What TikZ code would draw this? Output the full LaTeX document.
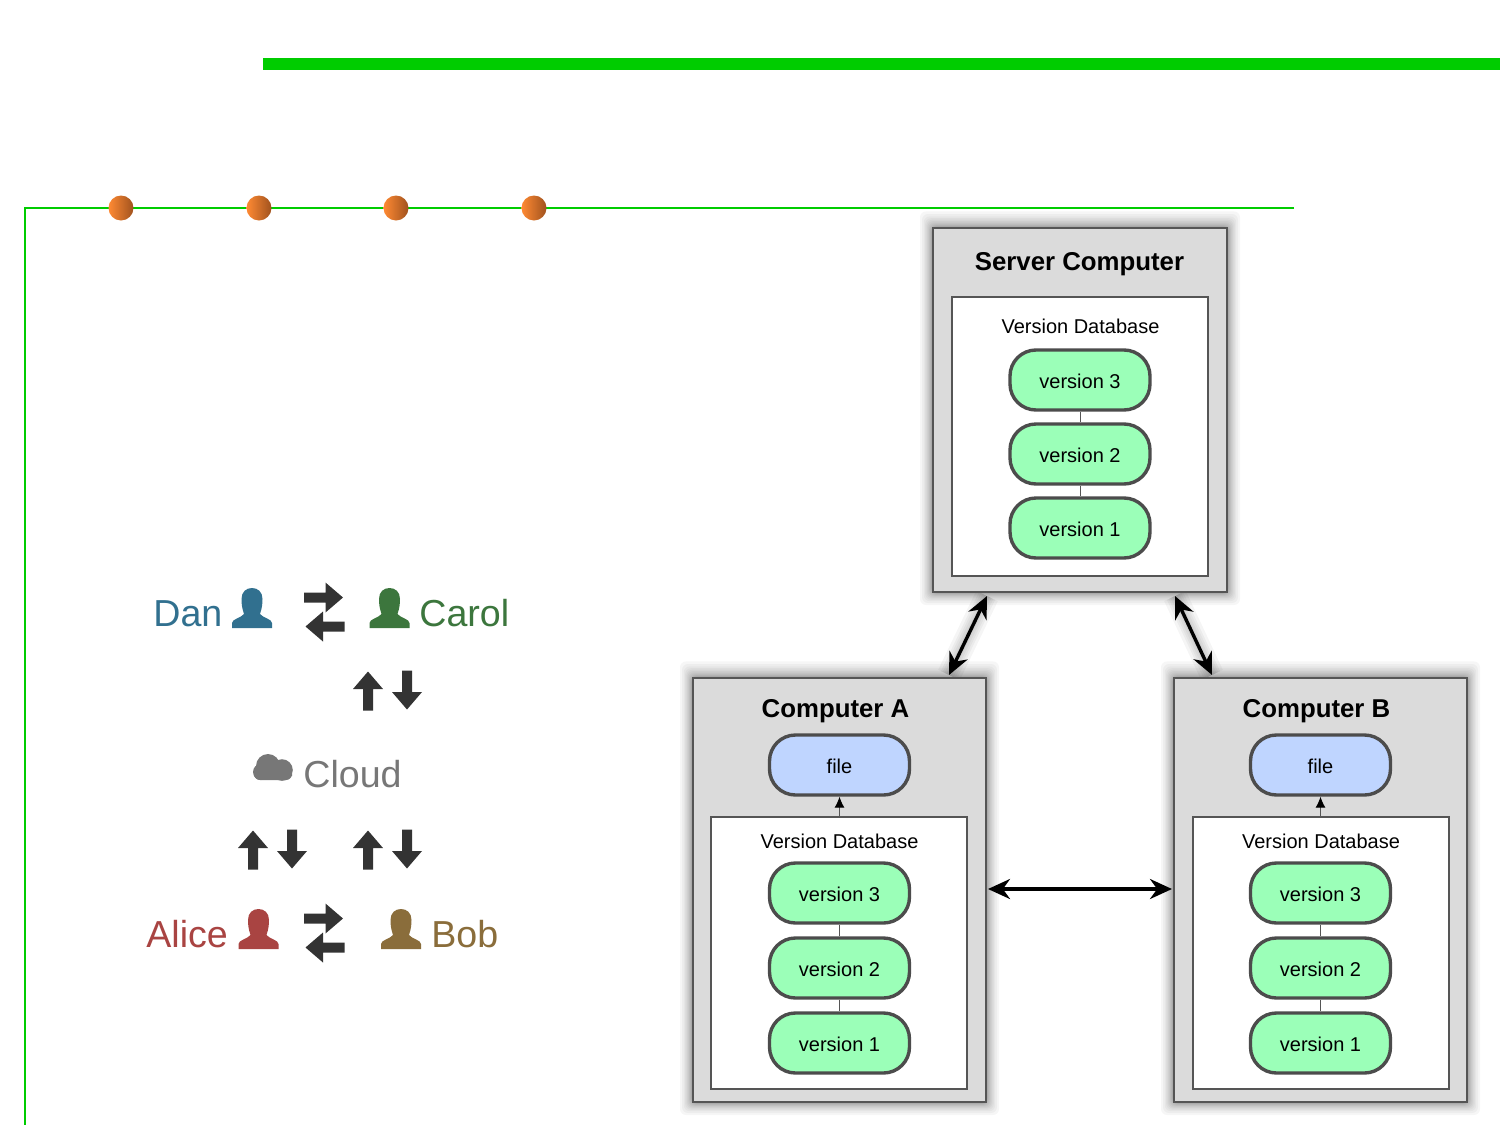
\documentclass[tikz,border=0pt]{standalone}
\usepackage{fontspec}
\setmainfont{Liberation Sans}
\usetikzlibrary{arrows.meta, backgrounds, calc}

\definecolor{railgreen}{HTML}{00CC00}
\definecolor{iconblack}{HTML}{333333}
\definecolor{danblue}{HTML}{31708F}
\definecolor{carolgreen}{HTML}{3C763D}
\definecolor{alicered}{HTML}{A94442}
\definecolor{bobbrown}{HTML}{8A6D3B}
\definecolor{cloudgray}{HTML}{777777}
\definecolor{hostgray}{HTML}{DBDBDB}
\definecolor{edgegray}{HTML}{555555}
\definecolor{vergreen}{HTML}{9BFFB8}
\definecolor{fileblue}{HTML}{BFD5FF}
\definecolor{dotlight}{HTML}{FF8A33}
\definecolor{dotdark}{HTML}{A0521E}

\tikzset{
  hostbox/.style={draw=edgegray, line width=1pt, fill=hostgray, inner sep=0},
  dbbox/.style={draw=edgegray, line width=0.8pt, fill=white, inner sep=0, minimum width=128pt},
  verbox/.style={draw=edgegray!90!black, line width=1.7pt, rounded corners=13pt, fill=vergreen,
    minimum width=70pt, minimum height=30pt, inner sep=0, text height=8pt, text depth=0pt,
    font=\fontsize{10}{12}\selectfont},
  filebox/.style={verbox, fill=fileblue},
  hosttitle/.style={anchor=base, inner sep=0, font=\fontsize{12.9}{15}\selectfont\bfseries},
  dbtitle/.style={anchor=base, inner sep=0, font=\fontsize{10}{12}\selectfont},
  who/.style={anchor=base west, inner sep=0, font=\fontsize{18.8}{22}\selectfont},
  dot/.style={circle, minimum size=12.5pt, inner sep=0, left color=dotlight, right color=dotdark},
  link/.style={{Stealth[length=11pt,width=10pt]}-{Stealth[length=11pt,width=10pt]}, line width=1.7pt, black},
  chain/.style={edgegray, line width=0.5pt},
  person/.pic={
    \fill (-20,0) -- (-20,-5) .. controls (-20,-9) and (-11,-10) .. (-8,-14)
      .. controls (-10,-20) and (-10.5,-24) .. (-10.5,-29) .. controls (-10.5,-36) and (-6,-40) .. (0,-40)
      .. controls (6,-40) and (10.5,-36) .. (10.5,-29) .. controls (10.5,-24) and (10,-20) .. (8,-14)
      .. controls (11,-10) and (20,-9) .. (20,-5) -- (20,0) -- cycle;
  },
  arrowicon/.pic={
    \fill[iconblack] (0,-19.5) -- (15,-2) -- (5,-2) -- (5,19.5) -- (-5,19.5) -- (-5,-2) -- (-15,-2) -- cycle;
  },
}

\begin{document}
\begin{tikzpicture}[x=0.5pt, y=-0.5pt]
  \useasboundingbox (0,0) rectangle (1500,1125);

  % Top bar and rail
  \fill[railgreen] (263,58) rectangle (1500,70);
  \coordinate (railend) at (1294,208);
  \coordinate (railfoot) at (25,1125);
  \draw[railgreen, line width=0.65pt] (railend) -| (railfoot);
  \foreach \n/\x in {1/121,2/259,3/396,4/534}
    \node[dot] (dot\n) at (\x,208) {};

  % Names
  \node[who, text=danblue] (dan) at (153,626) {Dan};
  \node[who, text=carolgreen] (carol) at (419,626) {Carol};
  \node[who, text=cloudgray] (cloud) at (303,787) {Cloud};
  \node[who, text=alicered] (alice) at (146,947) {Alice};
  \node[who, text=bobbrown] (bob) at (431,947) {Bob};

  % Person icons
  \pic[danblue] at (252,628) {person};
  \pic[carolgreen] at (389.5,628) {person};
  \pic[alicered] at (258.5,949) {person};
  \pic[bobbrown] at (401,949) {person};

  % Cloud icon
  \fill[cloudgray, rounded corners=3pt] (254,780) -- (254,770) -- (292,770) -- (292,780) -- cycle;
  \fill[cloudgray] (268,766) circle (6pt) (282,770) circle (5.4pt) (261,772) circle (4pt);

  % Arrow icons
  \foreach \x/\y/\r in {368/691/0, 407/690/180, 253/850/0, 292/849/180, 368/850/0, 407/849/180,
      323.5/597.5/-90, 325/626.5/90, 323.5/918.5/-90, 325/947.5/90}
    \pic[rotate=\r] at (\x,\y) {arrowicon};

  % Server Computer
  \node[hostbox, minimum width=147pt, minimum height=182pt] (server) at (1080,410) {};
  \node[hosttitle] (servertitle) at (1079.5,270) {Server Computer};
  \node[dbbox, minimum height=139.5pt] (serverdb) at (1080,436.5) {};
  \node[dbtitle] (serverdbtitle) at (1080.5,333) {Version Database};
  \foreach \v/\y in {3/380,2/454,1/528}
    \node[verbox] (serverv\v) at (1080,\y) {version \v};
  \draw[chain] (serverv3) -- (serverv2);
  \draw[chain] (serverv2) -- (serverv1);

  % Computer A
  \node[hostbox, minimum width=146.5pt, minimum height=212pt] (compA) at (839.5,890) {};
  \node[hosttitle] (compAtitle) at (835.5,717) {Computer A};
  \node[filebox] (fileA) at (839.5,765) {file};
  \node[dbbox, minimum height=136pt] (dbA) at (839,953) {};
  \node[dbtitle] (dbAtitle) at (839.5,848) {Version Database};
  \foreach \v/\y in {3/893,2/968,1/1043}
    \node[verbox] (Av\v) at (839.5,\y) {version \v};
  \draw[chain] (Av3) -- (Av2);
  \draw[chain] (Av2) -- (Av1);
  \draw[-{Latex[length=5.5pt,width=5pt,black]}, chain] (dbA.north -| fileA.south) -- (fileA.south);

  % Computer B
  \node[hostbox, minimum width=146.5pt, minimum height=212pt] (compB) at (1320.5,890) {};
  \node[hosttitle] (compBtitle) at (1316.5,717) {Computer B};
  \node[filebox] (fileB) at (1320.5,765) {file};
  \node[dbbox, minimum height=136pt] (dbB) at (1321,953) {};
  \node[dbtitle] (dbBtitle) at (1321,848) {Version Database};
  \foreach \v/\y in {3/893,2/968,1/1043}
    \node[verbox] (Bv\v) at (1320.5,\y) {version \v};
  \draw[chain] (Bv3) -- (Bv2);
  \draw[chain] (Bv2) -- (Bv1);
  \draw[-{Latex[length=5.5pt,width=5pt,black]}, chain] (dbB.north -| fileB.south) -- (fileB.south);

  % Link ends
  \coordinate (sa) at ([xshift=27.5pt,yshift=-1.5pt]server.south west);
  \coordinate (as) at ([xshift=-19pt,yshift=1pt]compA.north east);
  \coordinate (sb) at ([xshift=-26.5pt,yshift=-1.5pt]server.south east);
  \coordinate (bs) at ([xshift=19.5pt,yshift=1pt]compB.north west);

  % Soft shadows behind the computers and the slanted links
  \begin{scope}[on background layer]
    \foreach \b in {server, compA, compB}
      \foreach \g in {0.2,0.4,0.7,1,1.4,1.8,2.3,2.8,3.4,4.1,5,6}
        \fill[black, opacity=0.035, rounded corners=3pt]
          ($(\b.north west)+(-\g pt,1.3*\g pt)$) rectangle ($(\b.south east)+(\g pt,-\g pt)$);
    \foreach \a/\b in {sa/as, sb/bs}
      \foreach \w in {3,5,7,9,12}
        \draw[black, opacity=0.04, line width=\w pt] (\a) -- (\b);
  \end{scope}

  % Links between computers
  \draw[link] (sa) -- (as);
  \draw[link] (sb) -- (bs);
  \draw[link] ([xshift=0.5pt,yshift=0.5pt]compA.east) -- ([xshift=-0.5pt,yshift=0.5pt]compB.west);
\end{tikzpicture}
\end{document}
